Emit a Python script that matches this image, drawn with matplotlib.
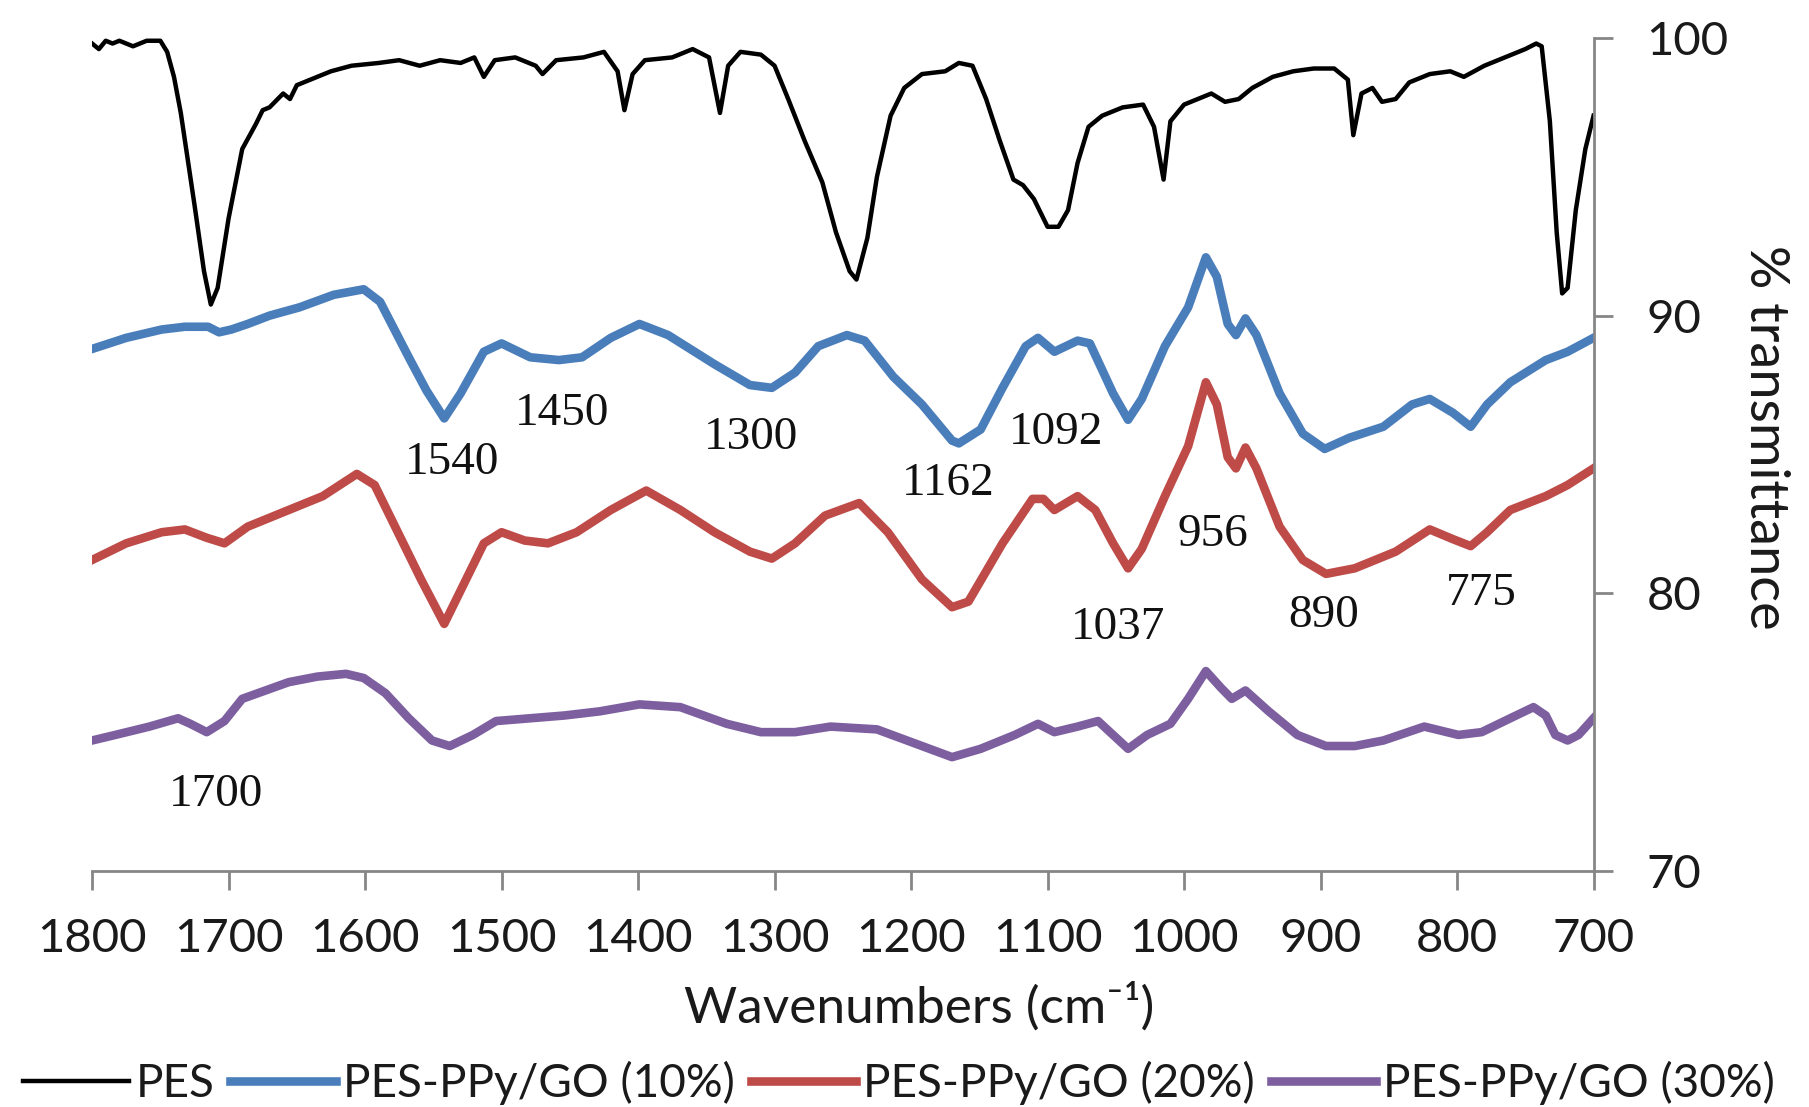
import matplotlib
matplotlib.use("Agg")
import matplotlib.pyplot as plt

# PES (black)
pes_wn = [1800, 1795, 1790, 1785, 1780, 1770, 1760, 1750, 1745, 1740, 1735, 1725, 1718, 1713,
          1708, 1700, 1690, 1680, 1675, 1670, 1660, 1655, 1650, 1640, 1625, 1610, 1590, 1575,
          1560, 1545, 1530, 1520, 1513, 1505, 1490, 1475, 1470, 1460, 1440, 1425, 1415, 1410,
          1404, 1395, 1375, 1360, 1348, 1340, 1334, 1325, 1310, 1300, 1290, 1278, 1265, 1255,
          1245, 1240, 1232, 1225, 1215, 1205, 1192, 1175, 1165, 1155, 1145, 1135, 1125, 1118,
          1110, 1100, 1092, 1085, 1078, 1070, 1060, 1045, 1030, 1022, 1015, 1010, 1000, 990,
          980, 970, 960, 950, 935, 920, 905, 890, 880, 876, 870, 862, 855, 845, 835, 820, 805,
          795, 780, 765, 750, 742, 738, 732, 727, 723, 719, 713, 706, 700]
pes_t = [99.8, 99.6, 99.9, 99.8, 99.9, 99.7, 99.9, 99.9, 99.5, 98.6, 97.3, 94.0, 91.6, 90.4,
         91.0, 93.5, 96.0, 96.9, 97.4, 97.5, 98.0, 97.8, 98.3, 98.5, 98.8, 99.0, 99.1, 99.2,
         99.0, 99.2, 99.1, 99.3, 98.6, 99.2, 99.3, 99.0, 98.7, 99.2, 99.3, 99.5, 98.8, 97.4,
         98.7, 99.2, 99.3, 99.6, 99.3, 97.3, 99.0, 99.5, 99.4, 99.0, 97.8, 96.3, 94.8, 93.0,
         91.6, 91.3, 92.8, 95.0, 97.2, 98.2, 98.7, 98.8, 99.1, 99.0, 97.8, 96.3, 94.9, 94.7,
         94.2, 93.2, 93.2, 93.8, 95.5, 96.8, 97.2, 97.5, 97.6, 96.8, 94.9, 97.0, 97.6, 97.8,
         98.0, 97.7, 97.8, 98.2, 98.6, 98.8, 98.9, 98.9, 98.5, 96.5, 98.0, 98.2, 97.7, 97.8,
         98.4, 98.7, 98.8, 98.6, 99.0, 99.3, 99.6, 99.8, 99.7, 97.0, 93.0, 90.8, 91.0, 93.8,
         96.0, 97.2]

# PES-PPy/GO (10%) (blue)
g10_wn = [1800, 1775, 1749, 1732, 1715, 1707, 1698, 1686, 1670, 1648, 1623, 1601, 1589, 1568,
          1555, 1542, 1530, 1513, 1500, 1479, 1458, 1441, 1420, 1399, 1378, 1344, 1318, 1302,
          1285, 1268, 1247, 1234, 1213, 1192, 1170, 1165, 1149, 1133, 1116, 1107, 1095, 1078,
          1069, 1052, 1041, 1031, 1014, 997, 984, 976, 968, 962, 955, 947, 930, 913, 897, 879,
          854, 833, 820, 803, 790, 778, 761, 735, 719, 700]
g10_t = [88.8, 89.2, 89.5, 89.6, 89.6, 89.4, 89.5, 89.7, 90.0, 90.3, 90.75, 90.95, 90.5, 88.5,
         87.3, 86.3, 87.2, 88.7, 89.0, 88.5, 88.4, 88.5, 89.2, 89.7, 89.3, 88.25, 87.5, 87.4,
         87.95, 88.9, 89.3, 89.1, 87.8, 86.8, 85.5, 85.4, 85.9, 87.4, 88.9, 89.2, 88.7, 89.1,
         89.0, 87.2, 86.25, 87.0, 88.9, 90.3, 92.1, 91.4, 89.7, 89.3, 89.9, 89.3, 87.2, 85.75,
         85.2, 85.6, 86.0, 86.8, 87.0, 86.5, 86.0, 86.8, 87.6, 88.4, 88.7, 89.2]

# PES-PPy/GO (20%) (red)
g20_wn = [1800, 1775, 1749, 1732, 1716, 1703, 1686, 1656, 1631, 1606, 1593, 1576, 1559, 1542,
          1530, 1513, 1500, 1483, 1466, 1445, 1420, 1394, 1369, 1344, 1318, 1302, 1285, 1263,
          1238, 1217, 1192, 1170, 1158, 1133, 1111, 1103, 1095, 1078, 1065, 1052, 1041, 1031,
          1014, 997, 984, 976, 968, 962, 955, 947, 930, 913, 896, 875, 845, 820, 803, 790, 778,
          761, 735, 719, 700]
g20_t = [81.2, 81.8, 82.2, 82.3, 82.0, 81.8, 82.4, 83.0, 83.5, 84.3, 83.9, 82.2, 80.5, 78.9,
         80.1, 81.8, 82.2, 81.9, 81.8, 82.2, 83.0, 83.7, 83.0, 82.2, 81.5, 81.25, 81.8, 82.8,
         83.25, 82.2, 80.5, 79.5, 79.7, 81.8, 83.4, 83.4, 83.0, 83.5, 83.0, 81.8, 80.9, 81.6,
         83.5, 85.3, 87.6, 86.8, 84.9, 84.5, 85.25, 84.5, 82.4, 81.2, 80.7, 80.9, 81.5, 82.3,
         81.95, 81.7, 82.2, 83.0, 83.5, 83.9, 84.5]

# PES-PPy/GO (30%) (purple)
g30_wn = [1800, 1783, 1758, 1737, 1728, 1716, 1703, 1690, 1673, 1656, 1635, 1614, 1601, 1585,
          1568, 1551, 1538, 1521, 1504, 1479, 1454, 1428, 1399, 1369, 1335, 1310, 1285, 1259,
          1225, 1192, 1170, 1149, 1124, 1107, 1095, 1078, 1063, 1052, 1041, 1027, 1010, 997,
          984, 973, 965, 955, 938, 917, 896, 875, 854, 824, 799, 782, 761, 744, 735, 728, 719,
          711, 700]
g30_t = [74.7, 74.9, 75.2, 75.5, 75.3, 75.0, 75.4, 76.2, 76.5, 76.8, 77.0, 77.1, 76.95, 76.4,
         75.5, 74.7, 74.5, 74.9, 75.4, 75.5, 75.6, 75.75, 76.0, 75.9, 75.3, 75.0, 75.0, 75.2,
         75.1, 74.5, 74.1, 74.4, 74.9, 75.3, 75.0, 75.2, 75.4, 74.9, 74.4, 74.9, 75.3, 76.2,
         77.2, 76.6, 76.2, 76.5, 75.75, 74.9, 74.5, 74.5, 74.7, 75.2, 74.9, 75.0, 75.5, 75.9,
         75.6, 74.9, 74.7, 74.9, 75.5]

labels = ["PES", "PES-PPy/GO (10%)", "PES-PPy/GO (20%)", "PES-PPy/GO (30%)"]

# peak labels: text, wavenumber, %T
peak_text = ["1540", "1450", "1300", "1162", "1092", "956", "1037", "890", "775", "1700"]
peak_wn = [1536, 1456, 1317, 1173, 1094, 979, 1048, 898, 782, 1709]
peak_t = [84.7, 86.45, 85.6, 83.95, 85.8, 82.1, 78.75, 79.2, 80.0, 72.75]

sans = ["Lato", "DejaVu Sans"]
plt.rcParams["font.family"] = sans

fig = plt.figure(figsize=(18.09, 11.07), dpi=100)
ax = fig.add_axes([0.0509, 0.2132, 0.830, 0.7525])

ax.plot(pes_wn, pes_t, color="black", lw=3.2, label=labels[0])
ax.plot(g10_wn, g10_t, color="#4A7EBB", lw=6.2, label=labels[1])
ax.plot(g20_wn, g20_t, color="#BE4B48", lw=6.2, label=labels[2])
ax.plot(g30_wn, g30_t, color="#7D5FA0", lw=6.2, label=labels[3])

for txt, x, y in zip(peak_text, peak_wn, peak_t):
    ax.text(x, y, txt, ha="center", va="center", fontsize=34,
            family="Liberation Serif", color="#111111")

ax.set_xlim(1800, 700)
ax.set_ylim(70, 100)
ax.set_xticks(range(1800, 699, -100))
ax.set_yticks([70, 80, 90, 100])

for s in ["top", "left"]:
    ax.spines[s].set_visible(False)
for s in ["bottom", "right"]:
    ax.spines[s].set_color("#868686")
    ax.spines[s].set_linewidth(2)

ax.yaxis.tick_right()
ax.tick_params(axis="both", direction="out", length=14, width=2, color="#868686",
               labelsize=34, labelcolor="#1a1a1a")
ax.tick_params(axis="x", pad=20)
ax.tick_params(axis="y", pad=24)

fig.text(0.508, 0.090, "Wavenumbers (cm\u207b\u00b9)", ha="center", va="center",
         fontsize=37, color="#1a1a1a")
fig.text(0.976, 0.605, "% transmittance", ha="center", va="center", rotation=-90,
         fontsize=39, color="#1a1a1a")

fig.legend(loc="center", bbox_to_anchor=(0.497, 0.022), ncol=4, frameon=False,
           fontsize=33, handlelength=2.3, handletextpad=0.15, columnspacing=0.35,
           labelcolor="#1a1a1a", borderpad=0.1)

fig.savefig("out.png", dpi=100)
